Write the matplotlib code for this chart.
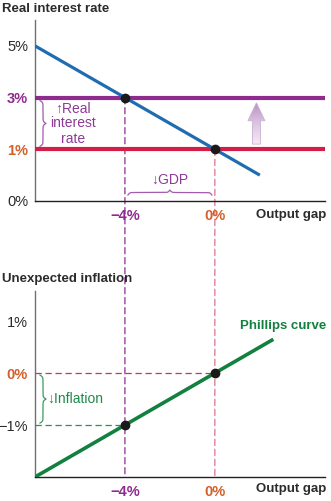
import numpy as np
import matplotlib
matplotlib.use("Agg")
import matplotlib.pyplot as plt
from matplotlib.patches import ConnectionPatch, Polygon
from matplotlib.lines import Line2D
from matplotlib.colors import LinearSegmentedColormap

# ---------------- data ----------------
gap_ticks = [-4, 0]
gap_labels = ["\u22124%", "0%"]
rate_ticks = [0, 1, 3, 5]
rate_labels = ["0%", "1%", "3%", "5%"]
rate_old = 1
rate_new = 3
mp_x = [-8, 2]          # monetary policy / IS line
mp_y = [5, 0.5]
eq_x = [-4, 0]
eq_rate = [3, 1]
infl_ticks = [-1, 0, 1]
infl_labels = ["\u22121%", "0%", "1%"]
pc_x = [-8, 2.6]
pc_y = [-2, 0.65]
eq_infl = [-1, 0]

# ---------------- style ----------------
W, H = 331, 501
PURPLE = "#8E2C8E"
RED = "#D41E48"
BLUE = "#1F6DB0"
GREEN = "#12803F"
ORANGE = "#D2602A"
DARK = "#2B2B2B"
PINK = "#E0708C"
FONT = ["Liberation Sans", "DejaVu Sans"]
plt.rcParams["font.family"] = FONT

fig = plt.figure(figsize=(W / 100, H / 100), dpi=100)


def fwd(v):
    v = np.asarray(v, float)
    return np.where(v <= 1, v, 1 + (v - 1) / 2)


def inv(p):
    p = np.asarray(p, float)
    return np.where(p <= 1, p, 1 + 2 * (p - 1))


ax1 = fig.add_axes([35 / W, (H - 201) / H, 290 / W, 181 / H])
ax2 = fig.add_axes([35 / W, (H - 477) / H, 290 / W, 186 / H])

ax1.set_yscale("function", functions=(fwd, inv))
ax1.set_xlim(-8, 4.9)
ax1.set_ylim(0, 6)
ax2.set_xlim(-8, 4.9)
ax2.set_ylim(-2, 1.58)

for ax in (ax1, ax2):
    for s in ("top", "right"):
        ax.spines[s].set_visible(False)
    ax.spines["left"].set_color("#707070")
    ax.spines["left"].set_linewidth(1.0)
    ax.spines["bottom"].set_color("#222222")
    ax.spines["bottom"].set_linewidth(1.0)
    ax.tick_params(length=0, labelsize=10.5)
    ax.patch.set_alpha(0)

# ticks top
ax1.set_yticks(rate_ticks)
ax1.set_yticklabels(rate_labels)
ax1.yaxis.set_minor_locator(matplotlib.ticker.NullLocator())
ax1.tick_params(axis="y", pad=5)
ycols1 = [DARK, ORANGE, PURPLE, DARK]
yw1 = ["normal", "bold", "bold", "normal"]
for lab, c, w in zip(ax1.get_yticklabels(), ycols1, yw1):
    lab.set_color(c)
    lab.set_fontweight(w)

for ax in (ax1, ax2):
    ax.set_xticks(gap_ticks)
    ax.set_xticklabels(gap_labels)
    ax.tick_params(axis="x", pad=6)
    for lab, c in zip(ax.get_xticklabels(), [PURPLE, ORANGE]):
        lab.set_color(c)
        lab.set_fontweight("bold")

ax2.set_yticks(infl_ticks)
ax2.set_yticklabels(infl_labels)
ax2.tick_params(axis="y", pad=5)
for lab, c, w in zip(ax2.get_yticklabels(), [DARK, ORANGE, DARK], ["normal", "bold", "normal"]):
    lab.set_color(c)
    lab.set_fontweight(w)

# ---------------- top panel ----------------
ax1.axhline(rate_new, color=PURPLE, lw=3.0, zorder=3)
ax1.axhline(rate_old, color=RED, lw=3.0, zorder=3)
ax1.plot(mp_x, mp_y, color=BLUE, lw=2.3, zorder=4, solid_capstyle="butt")
ax1.plot(eq_x, eq_rate, "o", color="#1A1A1A", ms=6, zorder=6)

# ---------------- bottom panel ----------------
ax2.plot(pc_x, pc_y, color=GREEN, lw=2.6, zorder=4, solid_capstyle="butt")
ax2.plot(eq_x, eq_infl, "o", color="#1A1A1A", ms=6, zorder=6)
ax2.plot([-8, eq_x[1]], [eq_infl[1]] * 2, color="#B83A66", lw=0.9, ls=(0, (5, 3)), zorder=2)
ax2.plot([-8, eq_x[0]], [eq_infl[0]] * 2, color="#2A9050", lw=0.9, ls=(0, (5, 3)), zorder=2)

# vertical dashed connectors across both panels (drawn beneath axes content)
for xv, yv, c in zip(eq_x, eq_rate, [PURPLE, PINK]):
    con = ConnectionPatch(xyA=(xv, yv), coordsA="data", axesA=ax1,
                          xyB=(xv, -2), coordsB="data", axesB=ax2,
                          color=c, lw=0.9, ls=(0, (5, 3)), zorder=-1)
    fig.add_artist(con)

# ---------------- annotations ----------------
fig.canvas.draw()


def disp(ax, x, y):
    return np.array(ax.transData.transform((x, y)), float)


def to_fig(pts):
    return fig.transFigure.inverted().transform(pts)


def brace(p0, p1, h, color, lw=0.9, beta=1.1):
    p0 = np.asarray(p0, float)
    p1 = np.asarray(p1, float)
    L = np.hypot(*(p1 - p0))
    d = (p1 - p0) / L
    n = np.array([-d[1], d[0]])
    t = np.linspace(0, L / 2, 200)
    s = 1 / (1 + np.exp(-beta * t)) + 1 / (1 + np.exp(-beta * (t - L / 2))) - 0.5
    s = (s - s[0]) / (s[-1] - s[0])
    u = np.concatenate([t, L - t[::-1]])
    v = np.concatenate([s, s[::-1]]) * h
    pts = p0[None, :] + u[:, None] * d[None, :] + v[:, None] * n[None, :]
    fig.add_artist(Line2D(*to_fig(pts).T, color=color, lw=lw, transform=fig.transFigure))
    tip = p0 + (L / 2) * d + h * n
    return tip


# left brace: rate increase
a = disp(ax1, -8, rate_new)
b = disp(ax1, -8, rate_old)
tip = brace(a + [5, -3], b + [5, 3], 6, "#A45AAE")
fp = to_fig(tip + [27, 0])
fig.text(fp[0], fp[1], "\u2191Real\ninterest\nrate", color="#8E3A96", fontsize=10,
         ha="center", va="center", linespacing=1.1)

# GDP brace
a = disp(ax1, eq_x[0], 0)
b = disp(ax1, eq_x[1], 0)
tip = brace(a + [3, 6], b + [-3, 6], 5, "#A45AAE")
fp = to_fig(tip + [0, 10])
fig.text(fp[0], fp[1], "\u2193GDP", color="#8E3A96", fontsize=10, ha="center", va="center")

# inflation brace
a = disp(ax2, -8, eq_infl[1])
b = disp(ax2, -8, eq_infl[0])
tip = brace(a + [5, -2], b + [5, 2], 6, "#3A9A5E")
fp = to_fig(tip + [1, 0])
fig.text(fp[0], fp[1], "\u2193Inflation", color="#1E8A4A", fontsize=10, ha="left", va="center")

# gradient arrow (policy raises rate)
base = disp(ax1, 1.85, 1.2)
top = disp(ax1, 1.85, 2.8)
cx = base[0]
ln = top[1] - base[1]
sw, hw, hl = 4.0, 8.5, 18
pad = 1
bb0 = to_fig([cx - hw - pad, base[1] - pad])
bb1 = to_fig([cx + hw + pad, top[1] + pad])
axa = fig.add_axes([bb0[0], bb0[1], bb1[0] - bb0[0], bb1[1] - bb0[1]])
axa.set_axis_off()
axa.set_xlim(-hw - pad, hw + pad)
axa.set_ylim(-pad, ln + pad)
pts = [[-sw, 0], [sw, 0], [sw, ln - hl], [hw, ln - hl], [0, ln],
       [-hw, ln - hl], [-sw, ln - hl]]
poly = Polygon(pts, closed=True, facecolor="none", edgecolor="none")
axa.add_patch(poly)
cmap = LinearSegmentedColormap.from_list("g", ["#F3EAF3", "#DCC4E0", "#B98FC4"])
im = axa.imshow(np.linspace(0, 1, 200).reshape(-1, 1), cmap=cmap, origin="lower",
                extent=[-hw, hw, 0, ln], aspect="auto")
im.set_clip_path(poly)
axa.add_patch(Polygon(pts, closed=True, facecolor="none", edgecolor="#CDB0D4", lw=0.6))

# ---------------- titles ----------------
def ftext(x, y, s, **kw):
    fig.text(x / W, 1 - y / H, s, **kw)


ftext(2, 9, "Real interest rate", fontsize=9.5, weight="bold", color=DARK, va="center")
ftext(2, 279, "Unexpected inflation", fontsize=9.5, weight="bold", color=DARK, va="center")
ftext(326, 215, "Output gap", fontsize=9.5, weight="bold", color=DARK, va="center", ha="right")
ftext(326, 489, "Output gap", fontsize=9.5, weight="bold", color=DARK, va="center", ha="right")
ftext(326, 326, "Phillips curve", fontsize=9.5, weight="bold", color=GREEN, va="center", ha="right")

fig.savefig("out.png", dpi=100)
